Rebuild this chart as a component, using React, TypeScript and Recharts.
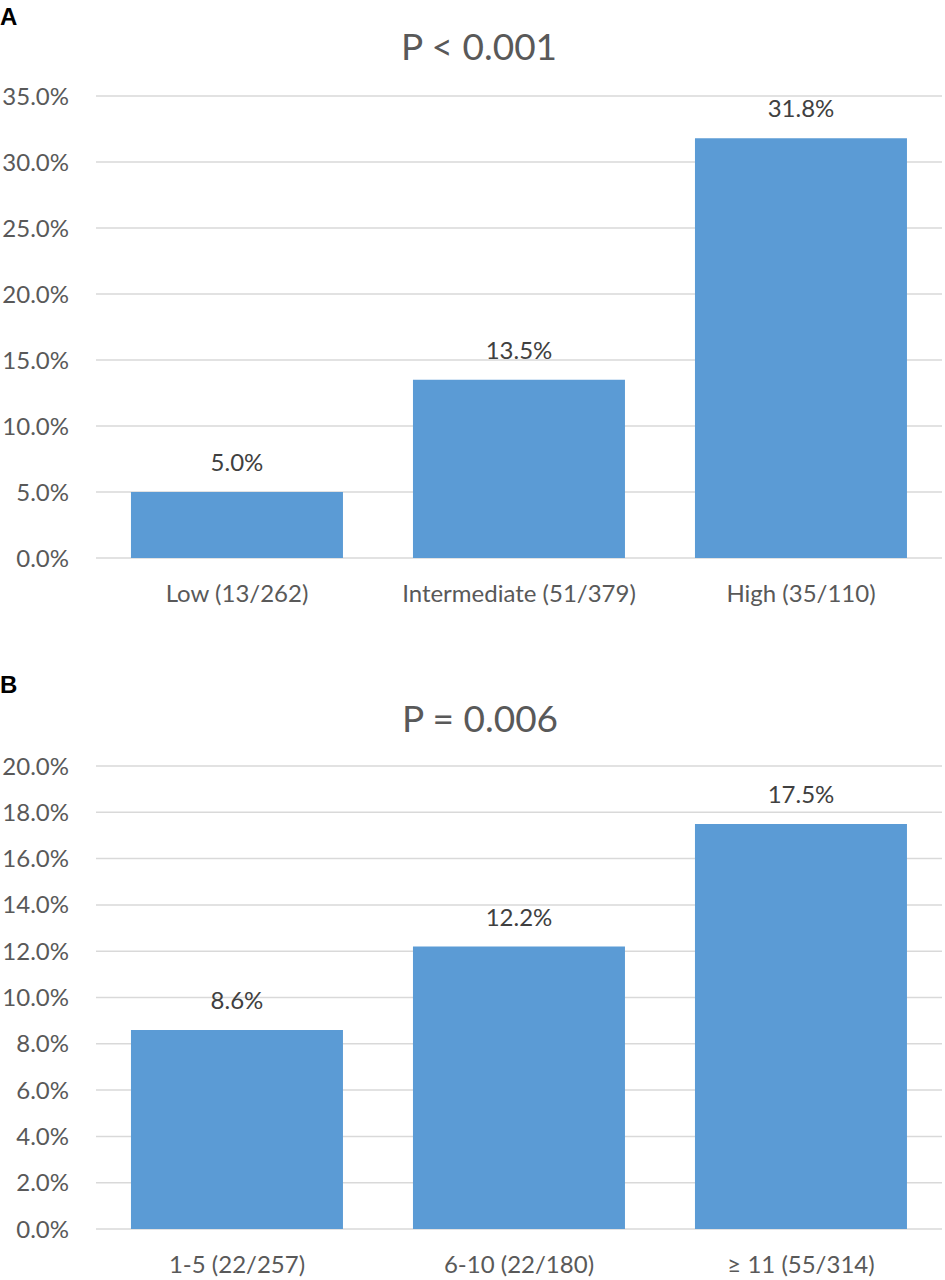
import { BarChart, Bar, XAxis, YAxis, CartesianGrid, LabelList } from 'recharts';

const riskGroups = ['Low (13/262)', 'Intermediate (51/379)', 'High (35/110)'];
const riskRates = [5.0, 13.5, 31.8];
const riskTicks = [0, 5, 10, 15, 20, 25, 30, 35];

const countGroups = ['1-5 (22/257)', '6-10 (22/180)', '≥ 11 (55/314)'];
const countRates = [8.6, 12.2, 17.5];
const countTicks = [0, 2, 4, 6, 8, 10, 12, 14, 16, 18, 20];

const FONT = 'Lato, "Open Sans", sans-serif';
const BAR = '#5B9BD5';
const GRID = '#D9D9D9';
const TEXT = '#595959';

const pct = (v: number) => `${v.toFixed(1)}%`;

interface PanelProps {
  groups: string[];
  rates: number[];
  ticks: number[];
  top: number;
  height: number;
  marginTop: number;
  xAxisHeight: number;
  marginBottom: number;
}

const Panel = ({ groups, rates, ticks, top, height, marginTop, xAxisHeight, marginBottom }: PanelProps) => {
  const data = groups.map((name, i) => ({ name, value: rates[i] }));
  return (
    <div style={{ position: 'absolute', left: 0, top, width: 945, height }}>
      <BarChart
        width={945}
        height={height}
        data={data}
        margin={{ top: marginTop, right: 3, bottom: marginBottom, left: 0 }}
        barCategoryGap="12.4%"
      >
        <CartesianGrid vertical={false} stroke={GRID} strokeWidth={1.5} />
        <XAxis
          dataKey="name"
          height={xAxisHeight}
          axisLine={false}
          tickLine={false}
          tickSize={0}
          tickMargin={27}
          interval={0}
          tick={{ fill: TEXT, fontSize: 24, fontFamily: FONT }}
        />
        <YAxis
          width={96}
          domain={[ticks[0], ticks[ticks.length - 1]]}
          ticks={ticks}
          tickFormatter={pct}
          axisLine={false}
          tickLine={false}
          tickSize={0}
          tickMargin={27}
          tick={{ fill: TEXT, fontSize: 24, fontFamily: FONT }}
        />
        <Bar dataKey="value" fill={BAR} isAnimationActive={false}>
          <LabelList
            dataKey="value"
            position="top"
            offset={21}
            formatter={(v: any) => pct(Number(v))}
            style={{ fill: '#404040', fontSize: 24, fontFamily: FONT }}
          />
        </Bar>
      </BarChart>
    </div>
  );
};

export default function App() {
  return (
    <div style={{ position: 'absolute', left: 0, top: 0, width: 945, height: 1280, background: '#fff' }}>
      <Panel
        groups={riskGroups}
        rates={riskRates}
        ticks={riskTicks}
        top={0}
        height={640}
        marginTop={96}
        xAxisHeight={60}
        marginBottom={22}
      />
      <Panel
        groups={countGroups}
        rates={countRates}
        ticks={countTicks}
        top={650}
        height={630}
        marginTop={116}
        xAxisHeight={40}
        marginBottom={11}
      />
      <svg
        width={945}
        height={1280}
        style={{ position: 'absolute', left: 0, top: 0, pointerEvents: 'none' }}
      >
        <text x={0} y={25} fontSize={24} fontWeight="bold" fontFamily="'Liberation Sans', Arial, sans-serif" fill="#000">
          A
        </text>
        <text x={479} y={60} textAnchor="middle" fontSize={37} fontFamily={FONT} fill={TEXT}>
          P &lt; 0.001
        </text>
        <text x={0} y={693} fontSize={24} fontWeight="bold" fontFamily="'Liberation Sans', Arial, sans-serif" fill="#000">
          B
        </text>
        <text x={480} y={732} textAnchor="middle" fontSize={37} fontFamily={FONT} fill={TEXT}>
          P = 0.006
        </text>
      </svg>
    </div>
  );
}
